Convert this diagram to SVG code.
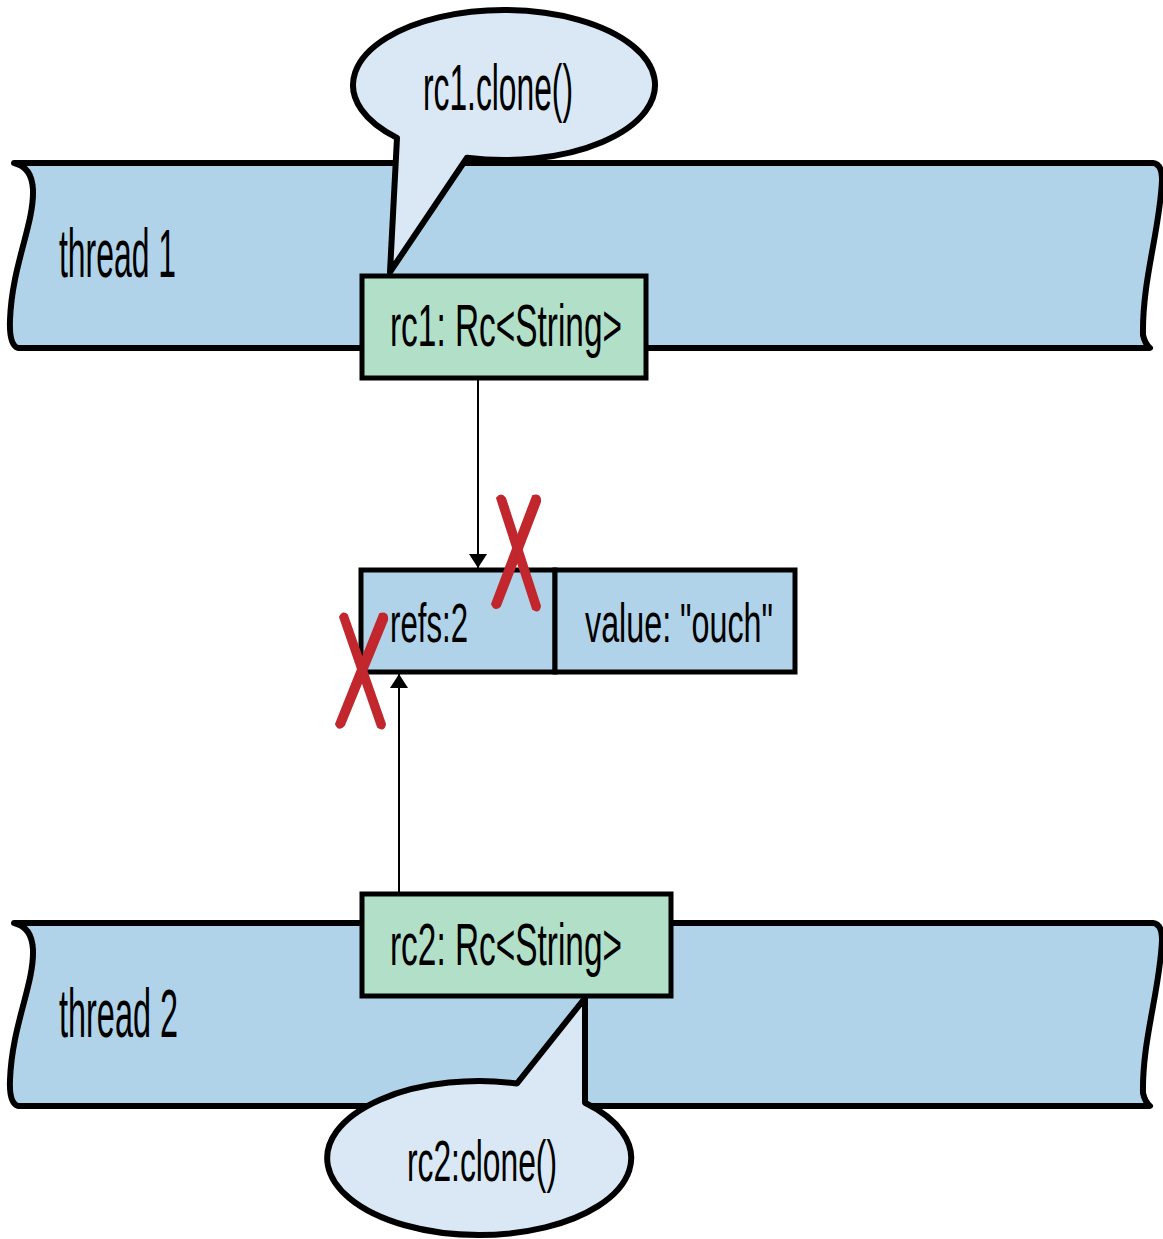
<svg xmlns="http://www.w3.org/2000/svg" width="1163" height="1239" viewBox="0 0 1163 1239">
<style>
.band{fill:#b1d3e9;stroke:#000;stroke-width:6;stroke-linejoin:round}
.bubble{fill:#d9e8f4;stroke:#000;stroke-width:6;stroke-linejoin:round}
.rc{fill:#b2dfc8;stroke:#000;stroke-width:5}
.cell{fill:#b1d3e9;stroke:#000;stroke-width:5}
.t{font-family:"Liberation Sans",Arial,sans-serif;fill:#000}
.conn{stroke:#000;stroke-width:2;fill:none}
.x{fill:#c1272d;stroke:#c1272d;stroke-width:2;stroke-linejoin:round}
</style>
<defs>
<marker id="ah" viewBox="0 0 14 18" refX="14" refY="9" markerWidth="14" markerHeight="18" markerUnits="userSpaceOnUse" orient="auto">
<path d="M0,0 L14,9 L0,18 Z" fill="#000"/>
</marker>
</defs>
<g id="thread1">
<path class="band" d="M14,163 L1153,163 Q1162,164 1162,180 C1160,230 1142,280 1143,335 Q1145,344 1150,348 L18,348 Q9,345 10,320 C12,265 34,225 33,190 Q32,167 14,163 Z"/>
<text class="t" x="59" y="277" font-size="68" textLength="117" lengthAdjust="spacingAndGlyphs">thread 1</text>
</g>
<g id="thread2">
<path class="band" d="M14,923 L1153,923 Q1162,924 1162,940 C1160,990 1142,1040 1143,1093 Q1145,1102 1150,1106 L18,1106 Q9,1103 10,1080 C12,1025 34,985 33,950 Q32,927 14,923 Z"/>
<text class="t" x="59" y="1037" font-size="68" textLength="119" lengthAdjust="spacingAndGlyphs">thread 2</text>
</g>
<g id="bubble1">
<path class="bubble" d="M467,157.7 A151 75 0 1 0 397,137.9 L390,272 Z"/>
<text class="t" x="423" y="110" font-size="64" textLength="150" lengthAdjust="spacingAndGlyphs">rc1.clone()</text>
</g>
<g id="rc1">
<rect class="rc" x="362" y="276" width="284" height="102"/>
<text class="t" x="390" y="346" font-size="60" textLength="232" lengthAdjust="spacingAndGlyphs">rc1: Rc&lt;String&gt;</text>
</g>
<g id="rcbox">
<rect class="cell" x="361" y="570" width="194" height="102"/>
<rect class="cell" x="555" y="570" width="240" height="102"/>
<text class="t" x="390" y="642" font-size="56" textLength="78" lengthAdjust="spacingAndGlyphs">refs:2</text>
<text class="t" x="585" y="642" font-size="56" textLength="188" lengthAdjust="spacingAndGlyphs">value: "ouch"</text>
</g>
<g id="rc2">
<rect class="rc" x="362" y="894" width="309" height="102"/>
<text class="t" x="390" y="965" font-size="60" textLength="232" lengthAdjust="spacingAndGlyphs">rc2: Rc&lt;String&gt;</text>
</g>
<g id="bubble2">
<path class="bubble" d="M517,1083.5 L585,998 L585,1102.8 A152 77 0 1 1 517,1083.5 Z"/>
<text class="t" x="407" y="1181" font-size="58" textLength="150" lengthAdjust="spacingAndGlyphs">rc2:clone()</text>
</g>
<g id="connectors">
<line class="conn" x1="478" y1="380" x2="478" y2="568" marker-end="url(#ah)"/>
<line class="conn" x1="399" y1="893" x2="399" y2="674" marker-end="url(#ah)"/>
</g>
<g id="marks">
<path class="x" d="M533,496 Q541,494 540,502 L500,606 Q495,611 492,604 Z"/>
<path class="x" d="M497,498 Q501,493 505,498 L540,606 Q539,613 533,609 Z"/>
<path class="x" d="M380,614 Q388,612 387,620 L344,725 Q339,731 336,724 Z"/>
<path class="x" d="M340,617 Q343,611 347,615 L385,724 Q384,731 378,727 Z"/>
</g>
</svg>
